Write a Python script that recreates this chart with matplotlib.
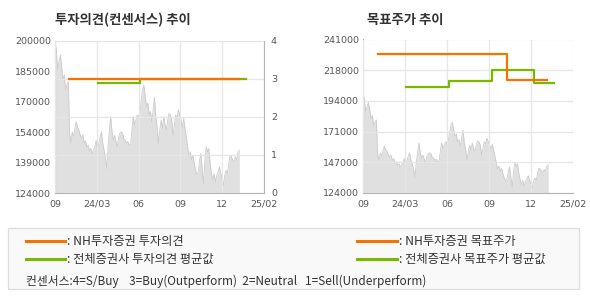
import matplotlib
matplotlib.use('Agg')
import matplotlib.pyplot as plt
from matplotlib.lines import Line2D
from matplotlib.patches import Rectangle
import numpy as np

plt.rcParams['font.family'] = ['Noto Sans CJK KR', 'DejaVu Sans']

# x axis is in "tick units": 0 = first tick (09), 5 = last tick (25/02)
xtick_labels = ['09', '24/03', '06', '09', '12', '25/02']

# closing price (evenly spaced trading days)
price = [199800, 195600, 185600, 189800, 193100, 187300, 180600, 183100, 175600, 178000,
         179700, 153800, 148800, 154600, 152100, 156300, 159700, 157100, 155500, 152900,
         151500, 153000, 148800, 150200, 147100, 147900, 145000, 146300, 143800, 145500,
         147100, 150400, 145400, 148800, 152100, 154600, 148800, 145400, 142100, 136200,
         147100, 155500, 162200, 154600, 150400, 152900, 149500, 147100, 152100, 154000,
         154600, 153800, 151000, 150400, 148800, 149700, 148000, 148000, 155500, 162200,
         158000, 160500, 163000, 162200, 163800, 170500, 175600, 178000, 172200, 167200,
         168900, 163000, 164700, 159700, 165500, 171900, 162200, 157100, 148800, 155500,
         160500, 156300, 162200, 158000, 155500, 160500, 163800, 163000, 160500, 152900,
         157800, 163000, 161300, 165700, 163000, 160500, 157100, 161300, 156300, 152100,
         147100, 142100, 144600, 140400, 142900, 138700, 135400, 132900, 134600, 140400,
         143800, 135400, 128700, 140400, 147100, 144600, 146300, 138700, 133700, 130400,
         133700, 129500, 132900, 134600, 137100, 133700, 131200, 127900, 132900, 135400,
         133700, 138700, 142900, 142100, 140400, 139600, 142100, 140400, 144600, 145400]
price_start, price_end = 0.0, 4.41

# investment opinion (0-4 scale)
nh_opinion_x = [0.34, 4.40]
nh_opinion = [3.0, 3.0]
avg_opinion_x = [1.02, 2.04, 4.56]
avg_opinion = [2.89, 3.0, 3.0]

# target price
nh_target_x = [0.36, 3.43, 4.39]
nh_target = [230000, 210000, 210000]
avg_target_x = [1.02, 2.04, 3.06, 4.07, 4.55]
avg_target = [205000, 209000, 218000, 208000, 208000]

left_ylabels = ['124000', '139000', '154000', '170000', '185000', '200000']
right_ylabels = ['124000', '147000', '171000', '194000', '218000', '241000']
opinion_ticks = [0, 1, 2, 3, 4]

ORANGE = '#f87200'
GREEN = '#7ab800'
GRID = '#e6e6e6'
SPINE = '#b4b4b4'
TICKC = '#555555'

W, H = 590, 300
fig = plt.figure(figsize=(W / 100, H / 100), dpi=100)
fig.patch.set_facecolor('white')


def fx(x):
    return x / W


def fy(y):
    return 1 - y / H


def style_axis(ax):
    for s in ax.spines.values():
        s.set_color(SPINE)
        s.set_linewidth(0.8)
    ax.spines['top'].set_visible(False)
    ax.tick_params(length=0, colors=TICKC, labelsize=6.8)
    for lab in ax.get_xticklabels() + ax.get_yticklabels():
        lab.set_family('DejaVu Sans')


px = np.linspace(price_start, price_end, len(price))

# ---- left chart: opinion trend
ax1 = fig.add_axes([fx(55), fy(193), fx(264) - fx(55), fy(41) - fy(193)])
ax1.set_xlim(0, 5)
ax1.set_ylim(124000, 200000)
ax1.fill_between(px, 124000, price, color='#e0e0e0', lw=0, zorder=1)
ax1.plot(px, price, color='#cbcbcb', lw=0.6, zorder=1.5)
ax1.set_xticks(range(6))
ax1.set_xticklabels(xtick_labels)
ax1.set_yticks(np.linspace(124000, 200000, 6))
ax1.set_yticklabels(left_ylabels)
ax1.set_axisbelow(False)
ax1.grid(axis='x', color=GRID, lw=0.9)
ax1.tick_params(axis='x', pad=5)
ax1.tick_params(axis='y', pad=3)
style_axis(ax1)
ax1.spines['right'].set_visible(False)

ax1b = ax1.twinx()
ax1b.set_ylim(0, 4)
ax1b.set_yticks(opinion_ticks)
ax1b.grid(axis='y', color=GRID, lw=0.9)
ax1b.step(avg_opinion_x, avg_opinion, where='post', color=GREEN, lw=1.6, zorder=3)
ax1b.step(nh_opinion_x, nh_opinion, where='post', color=ORANGE, lw=1.6, zorder=4)
style_axis(ax1b)
ax1b.spines['left'].set_visible(False)
ax1b.spines['bottom'].set_visible(False)
ax1b.tick_params(axis='y', pad=5)

fig.text(fx(55), fy(20), '투자의견(컨센서스) 추이', fontsize=9.6, fontweight='bold',
         color='#333333', va='center')

# ---- right chart: target price trend
ax2 = fig.add_axes([fx(363), fy(193), fx(573) - fx(363), fy(39.5) - fy(193)])
ax2.set_xlim(0, 5)
ax2.set_ylim(124000, 241000)
ax2.fill_between(px, 124000, price, color='#e0e0e0', lw=0, zorder=1)
ax2.plot(px, price, color='#cbcbcb', lw=0.6, zorder=1.5)
ax2.step(avg_target_x, avg_target, where='post', color=GREEN, lw=1.6, zorder=3)
ax2.step(nh_target_x, nh_target, where='post', color=ORANGE, lw=1.6, zorder=4)
ax2.set_xticks(range(6))
ax2.set_xticklabels(xtick_labels)
ax2.set_yticks(np.linspace(124000, 241000, 6))
ax2.set_yticklabels(right_ylabels)
ax2.set_axisbelow(False)
ax2.grid(color=GRID, lw=0.9)
style_axis(ax2)
ax2.spines['right'].set_visible(False)
ax2.tick_params(axis='x', pad=5)
ax2.tick_params(axis='y', pad=3)

fig.text(fx(367), fy(20), '목표주가 추이', fontsize=9.6, fontweight='bold',
         color='#333333', va='center')

# ---- legend box
fig.patches.append(Rectangle((fx(8), fy(289)), fx(579) - fx(8), fy(228) - fy(289),
                             transform=fig.transFigure, facecolor='#f9f9f9',
                             edgecolor='#dddddd', lw=0.9))
legend_rows = [
    (26, 65, 241, ORANGE, ': NH투자증권 투자의견'),
    (26, 65, 259, GREEN, ': 전체증권사 투자의견 평균값'),
    (357, 397, 241, ORANGE, ': NH투자증권 목표주가'),
    (357, 397, 259, GREEN, ': 전체증권사 목표주가 평균값'),
]
for x0, x1, y, c, label in legend_rows:
    fig.lines.append(Line2D([fx(x0), fx(x1)], [fy(y), fy(y)], transform=fig.transFigure,
                            color=c, lw=2.2))
    fig.text(fx(x1 + 2), fy(y), label, fontsize=8.8, color='#333333', va='center')

fig.text(fx(26), fy(281),
         '컨센서스:4=S/Buy    3=Buy(Outperform)  2=Neutral   1=Sell(Underperform)',
         fontsize=8.5, color='#333333', va='center')

fig.savefig('out.png', dpi=100)
